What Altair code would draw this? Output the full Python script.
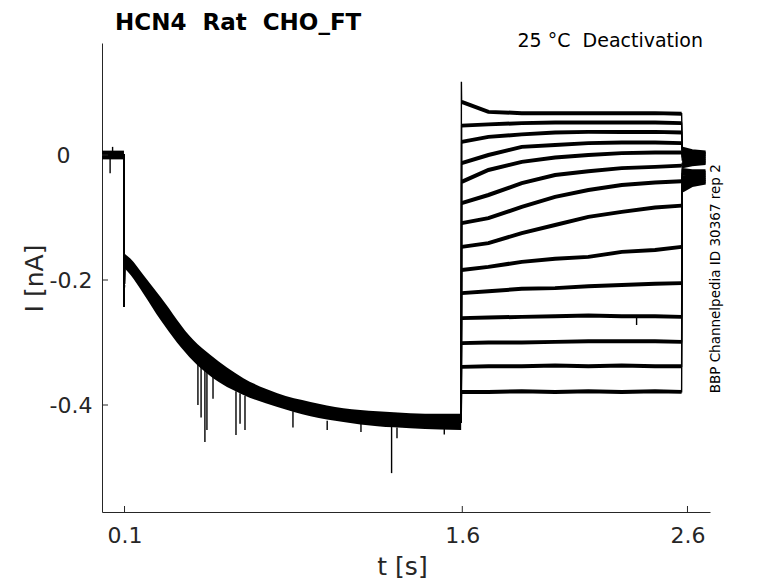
import altair as alt
import pandas as pd

# times in s, currents in nA
HOLD_T = [0.0, 0.0975]
HOLD_HI = [0.007, 0.007]
HOLD_LO = [-0.007, -0.007]

STEP_T = [0.0985, 0.1]
STEP_I = [-0.243, -0.163]

# activating prepulse: all sweeps lie on top of each other -> one noisy band
PRE_T = [0.100, 0.127, 0.184, 0.260, 0.406, 0.482, 0.628, 0.779, 0.926, 1.072, 1.223, 1.369, 1.500, 1.595]
PRE_HI = [-0.158, -0.166, -0.192, -0.227, -0.296, -0.320, -0.357, -0.381, -0.395, -0.405, -0.410, -0.413, -0.414, -0.414]
PRE_LO = [-0.181, -0.192, -0.222, -0.264, -0.330, -0.354, -0.384, -0.403, -0.418, -0.427, -0.434, -0.437, -0.439, -0.440]
PRE_MID = [-0.170, -0.179, -0.207, -0.245, -0.313, -0.337, -0.370, -0.392, -0.406, -0.416, -0.422, -0.425, -0.426, -0.427]

# deactivating test pulses, one row per sweep
TEST_T = [1.597, 1.716, 1.864, 2.012, 2.160, 2.308, 2.456, 2.574]
TEST_I = [
    [0.085, 0.069, 0.067, 0.067, 0.067, 0.067, 0.067, 0.066],
    [0.047, 0.049, 0.051, 0.052, 0.052, 0.052, 0.052, 0.051],
    [0.021, 0.029, 0.033, 0.036, 0.037, 0.037, 0.037, 0.036],
    [-0.013, 0.000, 0.013, 0.016, 0.019, 0.020, 0.020, 0.019],
    [-0.043, -0.024, -0.011, -0.004, 0.000, 0.003, 0.004, 0.004],
    [-0.077, -0.064, -0.045, -0.032, -0.026, -0.021, -0.019, -0.017],
    [-0.109, -0.101, -0.083, -0.067, -0.056, -0.048, -0.044, -0.042],
    [-0.147, -0.141, -0.125, -0.112, -0.099, -0.091, -0.084, -0.081],
    [-0.184, -0.179, -0.171, -0.166, -0.163, -0.155, -0.152, -0.147],
    [-0.221, -0.218, -0.214, -0.213, -0.210, -0.208, -0.206, -0.205],
    [-0.261, -0.260, -0.259, -0.258, -0.257, -0.258, -0.258, -0.259],
    [-0.301, -0.300, -0.300, -0.299, -0.298, -0.298, -0.298, -0.299],
    [-0.339, -0.338, -0.338, -0.337, -0.338, -0.337, -0.338, -0.338],
    [-0.379, -0.379, -0.378, -0.379, -0.378, -0.379, -0.378, -0.379],
]
TEST_PEAK = 0.117

TAIL_T = [2.577, 2.62, 2.68]
TAIL_I = [
    [0.010, 0.006, 0.004],
    [0.006, 0.003, 0.002],
    [0.002, 0.000, -0.001],
    [-0.003, -0.004, -0.004],
    [-0.008, -0.008, -0.007],
    [-0.013, -0.012, -0.010],
    [-0.018, -0.015, -0.013],
    [-0.024, -0.026, -0.026],
    [-0.030, -0.030, -0.029],
    [-0.036, -0.034, -0.032],
    [-0.042, -0.038, -0.035],
    [-0.047, -0.042, -0.038],
    [-0.052, -0.045, -0.041],
    [-0.057, -0.048, -0.044],
]

# artefact spikes
SPIKE_T = [0.036, 0.047, 0.426, 0.440, 0.457, 0.466, 0.493, 0.595, 0.613, 0.635,
           0.848, 1.000, 1.150, 1.286, 1.310, 1.520, 2.374]
SPIKE_A = [0.0, 0.0, -0.330, -0.333, -0.336, -0.338, -0.345, -0.378, -0.381, -0.385,
           -0.410, -0.425, -0.430, -0.435, -0.436, -0.438, -0.258]
SPIKE_B = [-0.029, 0.013, -0.400, -0.420, -0.459, -0.440, -0.390, -0.448, -0.430, -0.440,
           -0.436, -0.440, -0.443, -0.509, -0.453, -0.447, -0.272]

X_TICKS = [0.1, 1.6, 2.6]
Y_TICKS = [0, -0.2, -0.4]

TITLE = "HCN4\u00a0 Rat\u00a0 CHO_FT"
NOTE = "25 °C\u00a0 Deactivation"
SIDE = "BBP Channelpedia ID 30367 rep 2"

INK = "#262626"
FONT = "DejaVu Sans"

X_SCALE = alt.Scale(domain=[0, 2.7], nice=False, zero=False)
Y_SCALE = alt.Scale(domain=[-0.5712, 0.1792], nice=False, zero=False)

# ---- tables ----
band_df = pd.concat([
    pd.DataFrame({"t": HOLD_T, "hi": HOLD_HI, "lo": HOLD_LO, "seg": "hold"}),
    pd.DataFrame({"t": PRE_T, "hi": PRE_HI, "lo": PRE_LO, "seg": "pre"}),
])

thin_rows, thick_rows = [], []
for k, (test, tail) in enumerate(zip(TEST_I, TAIL_I)):
    pts = list(zip(HOLD_T, [0.0, 0.0])) + list(zip(STEP_T, STEP_I)) + list(zip(PRE_T, PRE_MID))
    if k == 0:
        pts.append((1.596, TEST_PEAK))
    pts += list(zip(TEST_T, test)) + list(zip(TAIL_T, tail))
    thin_rows += [{"trace": k, "t": t, "i": v} for t, v in pts]
    thick_rows += [{"trace": k, "phase": "test", "t": t, "i": v} for t, v in zip(TEST_T, test)]
    thick_rows += [{"trace": k, "phase": "tail", "t": t, "i": v} for t, v in zip(TAIL_T, tail)]
thin_df = pd.DataFrame(thin_rows)
thick_df = pd.DataFrame(thick_rows)

spike_df = pd.DataFrame({"t": SPIKE_T, "a": SPIKE_A, "b": SPIKE_B})

x_axis = alt.Axis(
    values=X_TICKS, labelExpr="toString(datum.value)", ticks=False, tickSize=0,
    labelFontSize=22, labelPadding=13, labelColor=INK, labelFont=FONT,
    domainColor=INK, grid=False,
    title="t [s]", titleFontSize=25, titleFontWeight="normal", titleColor=INK, titleFont=FONT,
    titleX=300, titleY=62, titleBaseline="alphabetic", titleAlign="center",
)
y_axis = alt.Axis(
    values=Y_TICKS,
    labelExpr="toString(datum.value)",
    ticks=False, tickSize=0,
    labelFontSize=22, labelColor=INK, labelFont=FONT,
    # the "0" label sits further left than the others in the original
    labelPadding={"condition": {"test": "datum.value == 0", "value": 32}, "value": 10},
    domainColor=INK, grid=False,
    title="I [nA]", titleFontSize=25, titleFontWeight="normal", titleColor=INK, titleFont=FONT,
    titleX=-60, titleY=235, titleAngle=270, titleBaseline="alphabetic", titleAlign="center",
)


# every layer carries the same axis so the shared axes merge cleanly
def xe(field="t:Q"):
    return alt.X(field, scale=X_SCALE, axis=x_axis)


def ye(field="i:Q"):
    return alt.Y(field, scale=Y_SCALE, axis=y_axis)


band = alt.Chart(band_df).mark_area(color="black", interpolate="monotone").encode(
    x=xe(), y=ye("hi:Q"), y2="lo:Q", detail="seg:N",
)
thin = alt.Chart(thin_df).mark_line(color="black", strokeWidth=1.4).encode(
    x=xe(), y=ye(), detail="trace:N",
)
thick = alt.Chart(thick_df).mark_line(color="black", strokeWidth=4).encode(
    x=xe(), y=ye(), detail=["trace:N", "phase:N"],
)
spikes = alt.Chart(spike_df).mark_rule(color="black", strokeWidth=1.4).encode(
    x=xe(), y=ye("a:Q"), y2="b:Q",
)
xticks = alt.Chart(pd.DataFrame({"t": X_TICKS})).mark_rule(color=INK).encode(
    x=xe(), y=alt.value(469), y2=alt.value(463),
)
yticks = alt.Chart(pd.DataFrame({"i": Y_TICKS})).mark_rule(color=INK).encode(
    y=ye(), x=alt.value(0), x2=alt.value(6),
)
title = alt.Chart(pd.DataFrame({"t": [0.058], "i": [0.2008], "label": [TITLE]})).mark_text(
    align="left", baseline="alphabetic", fontSize=23, fontWeight="bold", font=FONT, color="black",
).encode(x=xe(), y=ye(), text="label:N")
note = alt.Chart(pd.DataFrame({"t": [2.669], "i": [0.173], "label": [NOTE]})).mark_text(
    align="right", baseline="alphabetic", fontSize=19, font=FONT, color="black",
).encode(x=xe(), y=ye(), text="label:N")
side = alt.Chart(pd.DataFrame({"t": [2.727], "i": [-0.198], "label": [SIDE]})).mark_text(
    align="center", baseline="middle", angle=270, fontSize=13.5, font=FONT, color="black",
).encode(x=xe(), y=ye(), text="label:N")

chart = alt.layer(band, thin, thick, spikes, xticks, yticks, title, note, side).properties(
    width=608,
    height=469,
    padding={"left": 94, "top": 35, "right": 50, "bottom": 68},
    autosize=alt.AutoSizeParams(type="none"),
).configure(font=FONT).configure_view(strokeWidth=0)

chart.save("out.html", embed_options={"renderer": "svg", "actions": False})
